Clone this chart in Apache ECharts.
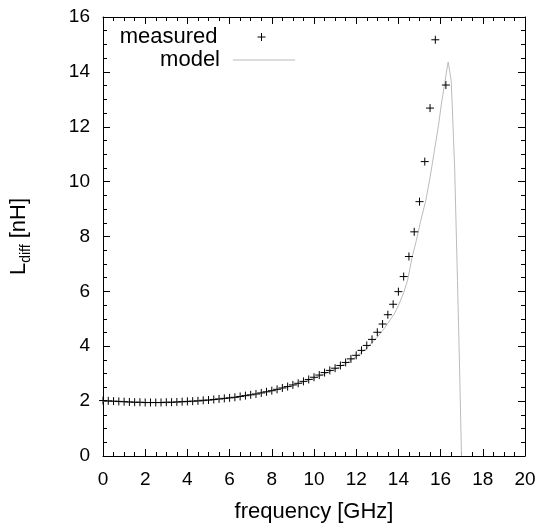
<!DOCTYPE html>
<html>
<head>
<meta charset="utf-8">
<script src="https://cdn.jsdelivr.net/npm/echarts@6/dist/echarts.min.js"></script>
<style>
html,body{margin:0;padding:0;background:#fff;}
#chart{width:542px;height:528px;}
</style>
</head>
<body>
<div id="chart"></div>
<script>
// ---- data ----
const xTicks = [0, 2, 4, 6, 8, 10, 12, 14, 16, 18, 20];
const yTicks = [0, 2, 4, 6, 8, 10, 12, 14, 16];

const measuredFreq = [0, 0.25, 0.5, 0.75, 1, 1.25, 1.5, 1.75, 2, 2.25, 2.5, 2.75, 3, 3.25, 3.5, 3.75,
  4, 4.25, 4.5, 4.75, 5, 5.25, 5.5, 5.75, 6, 6.25, 6.5, 6.75, 7, 7.25, 7.5, 7.75,
  8, 8.25, 8.5, 8.75, 9, 9.25, 9.5, 9.75, 10, 10.25, 10.5, 10.75, 11, 11.25, 11.5, 11.75,
  12, 12.25, 12.5, 12.75, 13, 13.25, 13.5, 13.75, 14, 14.25, 14.5, 14.75, 15, 15.25, 15.5, 15.75, 16.25];
const measuredL = [2.02, 2.01, 2.0, 1.99, 1.98, 1.97, 1.96, 1.96, 1.95, 1.95, 1.95, 1.95, 1.96, 1.96, 1.97, 1.98,
  1.99, 2.0, 2.01, 2.03, 2.04, 2.06, 2.08, 2.1, 2.12, 2.14, 2.17, 2.2, 2.23, 2.26, 2.3, 2.34,
  2.38, 2.43, 2.48, 2.53, 2.59, 2.65, 2.72, 2.79, 2.87, 2.95, 3.04, 3.12, 3.2, 3.3, 3.41, 3.54,
  3.67, 3.85, 4.03, 4.25, 4.51, 4.81, 5.15, 5.53, 5.99, 6.54, 7.27, 8.17, 9.27, 10.73, 12.68, 15.17, 13.52];

const modelFreq = [0, 1, 2, 3, 4, 5, 6, 7, 8, 9, 10, 10.5, 11, 11.5, 12, 12.5, 13, 13.3, 13.5, 13.8,
  14.0, 14.25, 14.45, 14.65, 14.85, 15.05, 15.3, 15.5, 15.7, 15.9, 16.05, 16.2, 16.3, 16.36, 16.4,
  16.44, 16.5, 16.55, 16.61, 16.67, 16.75, 16.8, 16.85, 16.9, 16.95, 16.99];
const modelL = [2.0, 1.97, 1.94, 1.94, 1.97, 2.02, 2.11, 2.22, 2.37, 2.57, 2.83, 2.99, 3.16, 3.37, 3.62, 3.93, 4.33, 4.62, 4.84, 5.17,
  5.48, 5.95, 6.45, 7.25, 7.85, 8.55, 9.32, 10.15, 11.1, 12.05, 12.9, 13.6, 14.1, 14.36, 14.43,
  14.3, 13.7, 12.8, 11.6, 10.4, 7.9, 6.4, 4.8, 3.2, 1.4, 0];

const measuredData = measuredFreq.map((f, i) => [f, measuredL[i]]);
const modelData = modelFreq.map((f, i) => [f, modelL[i]]);

const FONT = '"Liberation Sans", Arial, sans-serif';
const PLUS = 'path://M0,5L10,5M5,0L5,10';

function axisBase(extra) {
  return Object.assign({
    type: 'value',
    splitLine: { show: false },
    axisLine: { show: true, onZero: false, lineStyle: { color: '#000', width: 1 } },
    axisTick: { show: true, inside: true, length: 7, lineStyle: { color: '#000', width: 1 } },
    minorTick: { show: true, splitNumber: 4, length: 4, lineStyle: { color: '#000', width: 1 } },
    minorSplitLine: { show: false }
  }, extra);
}

const chart = echarts.init(document.getElementById('chart'), null, { renderer: 'canvas' });
chart.setOption({
  animation: false,
  backgroundColor: '#fff',
  textStyle: { fontFamily: FONT, color: '#000' },
  grid: { left: 100, right: 17, top: 17, bottom: 68, containLabel: false },
  xAxis: [
    axisBase({
      position: 'bottom', min: xTicks[0], max: xTicks[xTicks.length - 1], interval: 2,
      name: 'frequency [GHz]', nameLocation: 'middle', nameGap: 45,
      nameTextStyle: { fontSize: 22, color: '#000', fontFamily: FONT },
      axisLabel: { show: true, margin: 14, fontSize: 19, color: '#000', fontFamily: FONT }
    }),
    axisBase({
      position: 'top', min: xTicks[0], max: xTicks[xTicks.length - 1], interval: 2,
      axisLabel: { show: false }
    })
  ],
  yAxis: [
    axisBase({
      position: 'left', min: yTicks[0], max: yTicks[yTicks.length - 1], interval: 2,
      name: '{a|L}{b|diff}{a| [nH]}', nameLocation: 'middle', nameGap: 70, nameRotate: 90,
      nameTextStyle: {
        color: '#000', fontFamily: FONT,
        rich: {
          a: { fontSize: 22, fontFamily: FONT, color: '#000', verticalAlign: 'bottom', padding: [0, 0, 3, 0], lineHeight: 26 },
          b: { fontSize: 14, fontFamily: FONT, color: '#000', verticalAlign: 'bottom', lineHeight: 26 }
        }
      },
      axisLabel: { show: true, margin: 13, fontSize: 19, color: '#000', fontFamily: FONT }
    }),
    axisBase({
      position: 'right', min: yTicks[0], max: yTicks[yTicks.length - 1], interval: 2,
      axisLabel: { show: false }
    })
  ],
  legend: [
    {
      data: [{ name: 'measured', icon: PLUS, itemStyle: { color: 'none', borderColor: '#000', borderWidth: 1 } }],
      orient: 'vertical', align: 'right', right: 274, top: 26, padding: 0,
      itemWidth: 8, itemHeight: 8, selectedMode: false,
      textStyle: { fontSize: 22, lineHeight: 22, color: '#000', fontFamily: FONT, padding: [0, 35, 0, 0] }
    },
    {
      data: [{ name: 'model', icon: 'rect', itemStyle: { color: '#bbbbbb', borderWidth: 0 } }],
      orient: 'vertical', align: 'right', right: 247, top: 49, padding: 0,
      itemWidth: 62, itemHeight: 1, selectedMode: false,
      textStyle: { fontSize: 22, lineHeight: 22, color: '#000', fontFamily: FONT, padding: [0, 8, 0, 0] }
    }
  ],
  series: [
    {
      name: 'model', type: 'line', data: modelData, xAxisIndex: 0, yAxisIndex: 0,
      showSymbol: false, symbol: 'none', smooth: false, clip: true,
      lineStyle: { color: '#bbbbbb', width: 1 }, itemStyle: { color: '#bbbbbb' }, z: 2
    },
    {
      name: 'measured', type: 'scatter', data: measuredData, xAxisIndex: 0, yAxisIndex: 0,
      symbol: PLUS, symbolSize: 8, clip: true,
      itemStyle: { color: 'none', borderColor: '#000', borderWidth: 1, opacity: 1 }, z: 3
    }
  ]
});
</script>
</body>
</html>
